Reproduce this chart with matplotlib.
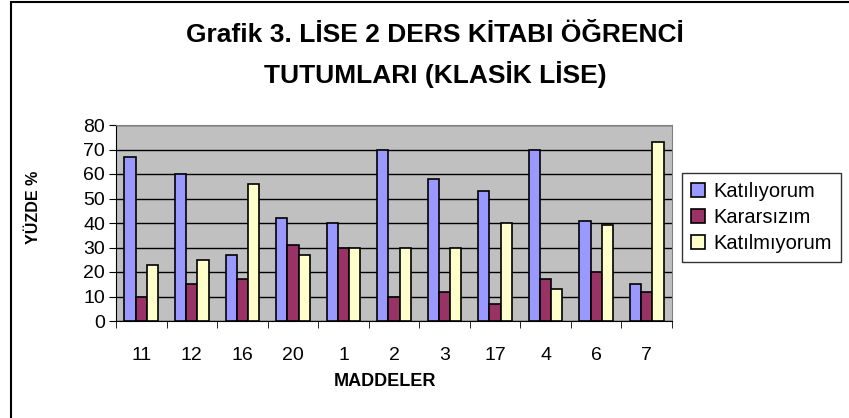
import numpy as np
import matplotlib
matplotlib.use('Agg')
import matplotlib.pyplot as plt
import matplotlib.patches as mpatches

plt.rcParams['font.family'] = ['Liberation Sans', 'DejaVu Sans']

maddeler = ['11', '12', '16', '20', '1', '2', '3', '17', '4', '6', '7']
katiliyorum = [67, 60, 27, 42, 40, 70, 58, 53, 70, 41, 15]
kararsizim = [10, 15, 17, 31, 30, 10, 12, 7, 17, 20, 12]
katilmiyorum = [23, 25, 56, 27, 30, 30, 30, 40, 13, 39, 73]
series_names = ['Katılıyorum', 'Kararsızım', 'Katılmıyorum']
colors = ['#9999FF', '#993366', '#FFFFCC']

fig = plt.figure(figsize=(8.49, 4.18), dpi=100)
W, H = 849, 418

# outer chart frame (right/bottom edges fall outside the image)
fig.patches.append(mpatches.Rectangle((11/W, -0.1), 1.0, 1 - 2/418 + 0.1, transform=fig.transFigure,
                                      fill=False, edgecolor='black', linewidth=1.5))

ax = fig.add_axes([116/W, (H-321)/H, (672-116)/W, (321-125)/H])
ax.set_facecolor('#C0C0C0')

x = np.arange(len(maddeler))
w = 1/4.5
for i, (vals, name, col) in enumerate(zip([katiliyorum, kararsizim, katilmiyorum], series_names, colors)):
    ax.bar(x + (i-1)*w, vals, w, color=col, edgecolor='black', linewidth=1.2, label=name, zorder=3)

ax.set_ylim(0, 80)
ax.set_xlim(-0.5, len(maddeler)-0.5)
ax.set_yticks(range(0, 81, 10))
ax.yaxis.grid(True, color='black', linewidth=1, zorder=1)
ax.set_axisbelow(True)
ax.set_xticks(x)
ax.set_xticklabels(maddeler)
ax.set_xticks(np.arange(-0.5, len(maddeler), 1), minor=True)
ax.tick_params(axis='x', which='major', length=0, pad=19, labelsize=14)
ax.tick_params(axis='x', which='minor', length=5, color='black')
ax.tick_params(axis='y', length=5, labelsize=14, pad=3)
for s in ['top', 'right']:
    ax.spines[s].set_color('#808080')
ax.spines['left'].set_color('black')
ax.spines['bottom'].set_color('black')

fig.text(385/W, 1 - 382/H, 'MADDELER', ha='center', va='center', fontsize=13, fontweight='bold')
fig.text(33/W, 1 - 207/H, 'YÜZDE %', ha='center', va='center', rotation=90,
         fontsize=11.5, fontweight='bold')

fig.text(435/W, 1 - 35/H, 'Grafik 3. LİSE 2 DERS KİTABI ÖĞRENCİ', ha='center', va='center',
         fontsize=19, fontweight='bold')
fig.text(435/W, 1 - 74/H, 'TUTUMLARI (KLASİK LİSE)', ha='center', va='center',
         fontsize=19, fontweight='bold')

leg = fig.legend(loc='upper left', bbox_to_anchor=(682/W, 1 - 173/H), frameon=True, fancybox=False,
                 edgecolor='black', fontsize=14.5, handlelength=0.7, handleheight=0.7,
                 handletextpad=0.4, borderpad=0.45, labelspacing=0.35, borderaxespad=0)
leg.get_frame().set_linewidth(1)

fig.savefig('out.png', dpi=100)
